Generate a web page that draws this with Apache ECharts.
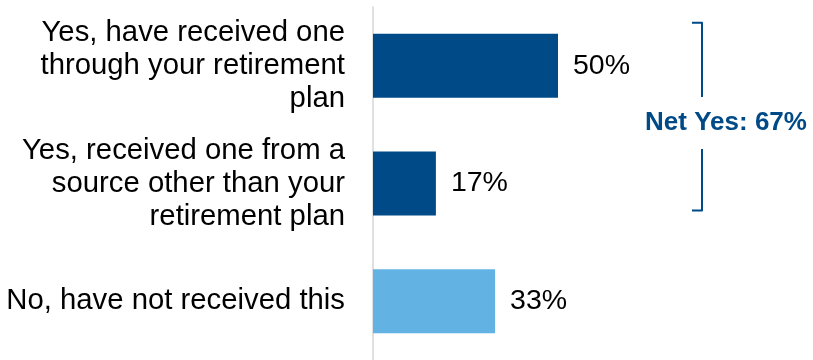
<!DOCTYPE html>
<html>
<head>
<meta charset="utf-8">
<script src="https://cdn.jsdelivr.net/npm/echarts@6/dist/echarts.min.js"></script>
<style>
  html, body { margin: 0; padding: 0; background: #fff; }
  #chart { width: 813px; height: 360px; }
</style>
</head>
<body>
<div id="chart"></div>
<script>
// Survey answers and their shares (%)
const categories = [
  'Yes, have received one\nthrough your retirement\nplan',
  'Yes, received one from a\nsource other than your\nretirement plan',
  'No, have not received this'
];
const shares = [50, 17, 33];
const netYesLabel = 'Net Yes: 67%';

const DARK = '#004b87';
const LIGHT = '#62b3e3';
const barColors = [DARK, DARK, LIGHT];
const FONT = '"Liberation Sans", Arial, sans-serif';

const chart = echarts.init(document.getElementById('chart'), null, { renderer: 'canvas' });

chart.setOption({
  animation: false,
  backgroundColor: '#fff',
  grid: { left: 373, top: 7, width: 370, height: 357, containLabel: false },
  xAxis: {
    type: 'value', min: 0, max: 100, show: false
  },
  yAxis: {
    type: 'category',
    inverse: true,
    data: categories,
    axisLine: { show: true, lineStyle: { color: '#d6d6d6', width: 1.5 } },
    axisTick: { show: false },
    axisLabel: {
      margin: 28,
      color: '#000',
      fontFamily: FONT,
      fontSize: 29.3,
      lineHeight: 33,
      align: 'right'
    }
  },
  series: [{
    type: 'bar',
    data: shares,
    barWidth: 64,
    itemStyle: { color: p => barColors[p.dataIndex] },
    label: {
      show: true,
      position: 'right',
      distance: 15,
      color: '#000',
      fontFamily: FONT,
      fontSize: 28.5,
      formatter: p => p.value + '%'
    }
  }]
});

// Bracket grouping the two "Yes" answers, placed from the category positions
const yFirst = chart.convertToPixel({ yAxisIndex: 0 }, 0);
const ySecond = chart.convertToPixel({ yAxisIndex: 0 }, 1);
const bx = 702, tick = 10;
const bracketTop = yFirst - 43, bracketBottom = ySecond + 27;
const bracketMid = 123;
const bracketStyle = { stroke: DARK, lineWidth: 2, lineJoin: 'round', lineCap: 'butt', fill: null };

chart.setOption({
  graphic: [
    { type: 'polyline', shape: { points: [[bx - tick, bracketTop], [bx, bracketTop], [bx, bracketMid - 26]] }, style: bracketStyle },
    { type: 'polyline', shape: { points: [[bx, bracketMid + 26], [bx, bracketBottom], [bx - tick, bracketBottom]] }, style: bracketStyle },
    {
      type: 'text', x: 726, y: bracketMid,
      style: {
        text: netYesLabel, fill: DARK, font: 'bold 26px ' + FONT,
        align: 'center', verticalAlign: 'middle'
      }
    }
  ]
});
</script>
</body>
</html>
